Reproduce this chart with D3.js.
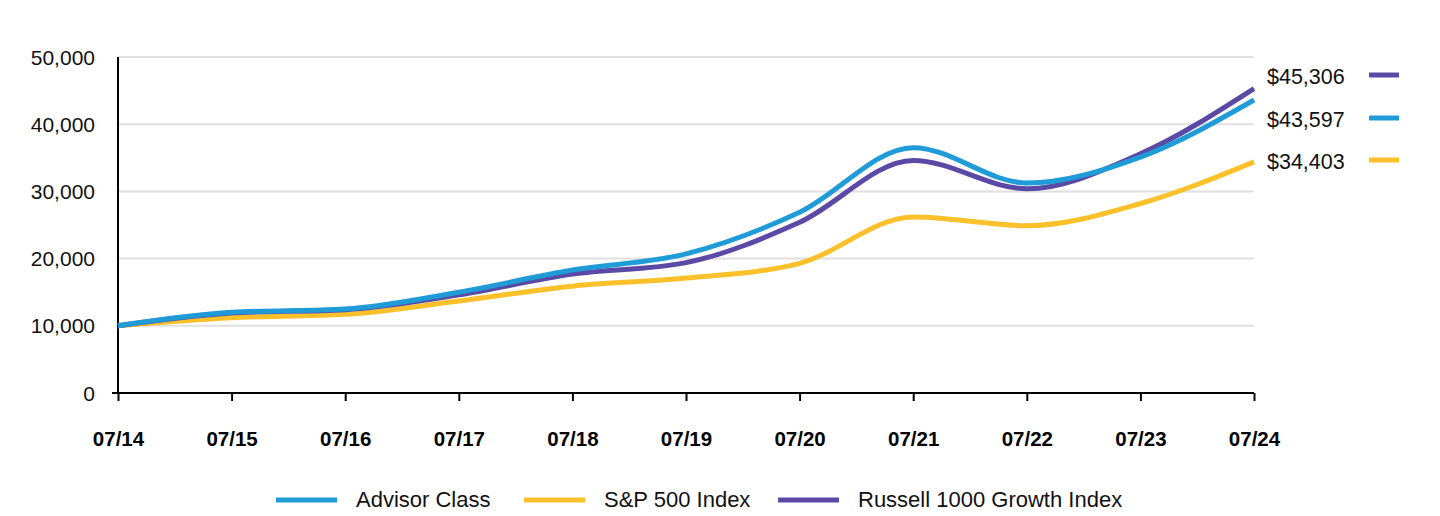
<!DOCTYPE html>
<html><head><meta charset="utf-8">
<script src="https://cdn.jsdelivr.net/npm/d3@7"></script>
<style>body{margin:0;background:#fff}svg{display:block}</style>
</head><body><svg id="c" width="1440" height="516"></svg>
<script>
const periods = ["07/14","07/15","07/16","07/17","07/18","07/19","07/20","07/21","07/22","07/23","07/24"];
const advisorClass = [10000,12000,12500,15000,18300,20700,26900,36500,31250,35100,43597];
const sp500 = [10000,11200,11700,13700,15900,17100,19300,26200,24900,28200,34403];
const russell1000Growth = [10000,11900,12400,14600,17700,19400,25400,34600,30400,35600,45306];
const yTicks = [0,10000,20000,30000,40000,50000];
const series = [
  {name:"Advisor Class", values:advisorClass, color:"#1f9bd7", endLabel:"$43,597"},
  {name:"S&P 500 Index", values:sp500, color:"#fcc02a", endLabel:"$34,403"},
  {name:"Russell 1000 Growth Index", values:russell1000Growth, color:"#5a4aa5", endLabel:"$45,306"}
];
const svg = d3.select("#c");
const L=118,R=1254,T=57,B=393;
const x = d3.scalePoint().domain(periods).range([L,R]);
const y = d3.scaleLinear().domain([0,50000]).range([B,T]);
const font = "Liberation Sans, Arial, sans-serif";
// grid
svg.append("g").selectAll("line").data(yTicks.filter(d=>d>0)).join("line")
  .attr("x1",L).attr("x2",R).attr("y1",d=>y(d)).attr("y2",d=>y(d))
  .attr("stroke","#e0e0e0").attr("stroke-width",2);
// y labels
svg.append("g").selectAll("text").data(yTicks).join("text")
  .attr("x",95).attr("y",d=>y(d)).attr("dy","0.36em").attr("text-anchor","end")
  .attr("font-family",font).attr("font-size",21).attr("fill","#111")
  .text(d=>d3.format(",")(d));
// x axis
const xa = svg.append("g").attr("transform",`translate(0,${B})`)
  .call(d3.axisBottom(x).tickSize(8).tickPadding(30));
xa.select(".domain").attr("stroke","#000").attr("stroke-width",2).attr("d",`M${L-6},0H${R}`);
xa.selectAll(".tick line").attr("stroke","#000").attr("stroke-width",2);
xa.selectAll(".tick text").attr("font-family",font).attr("font-size",20.5).attr("font-weight","bold").attr("fill","#000");
// y axis line
svg.append("line").attr("x1",L).attr("x2",L).attr("y1",T).attr("y2",B).attr("stroke","#000").attr("stroke-width",2);
// lines
const line = d3.line().x((d,i)=>x(periods[i])).y(d=>y(d)).curve(d3.curveMonotoneX);
const order = [1,2,0];
svg.append("g").selectAll("path").data(order.map(i=>series[i])).join("path")
  .attr("d",d=>line(d.values)).attr("fill","none").attr("stroke",d=>d.color)
  .attr("stroke-width",5).attr("stroke-linecap","butt");
// end labels
const endL = [
  {s:series[2], ly:76},
  {s:series[0], ly:119},
  {s:series[1], ly:161}
];
const eg = svg.append("g");
endL.forEach(e=>{
  eg.append("text").attr("x",1267).attr("y",e.ly).attr("dy","0.36em")
    .attr("font-family",font).attr("font-size",21.5).attr("fill","#111").text(e.s.endLabel);
  eg.append("line").attr("x1",1369).attr("x2",1399).attr("y1",e.ly-1).attr("y2",e.ly-1)
    .attr("stroke",e.s.color).attr("stroke-width",5);
});
// legend
const leg = [{s:series[0],x:276},{s:series[1],x:524},{s:series[2],x:778}];
const lg = svg.append("g");
leg.forEach(l=>{
  lg.append("line").attr("x1",l.x).attr("x2",l.x+61).attr("y1",500).attr("y2",500)
    .attr("stroke",l.s.color).attr("stroke-width",5);
  lg.append("text").attr("x",l.x+80).attr("y",499).attr("dy","0.36em")
    .attr("font-family",font).attr("font-size",22).attr("fill","#111").text(l.s.name);
});
</script></body></html>
